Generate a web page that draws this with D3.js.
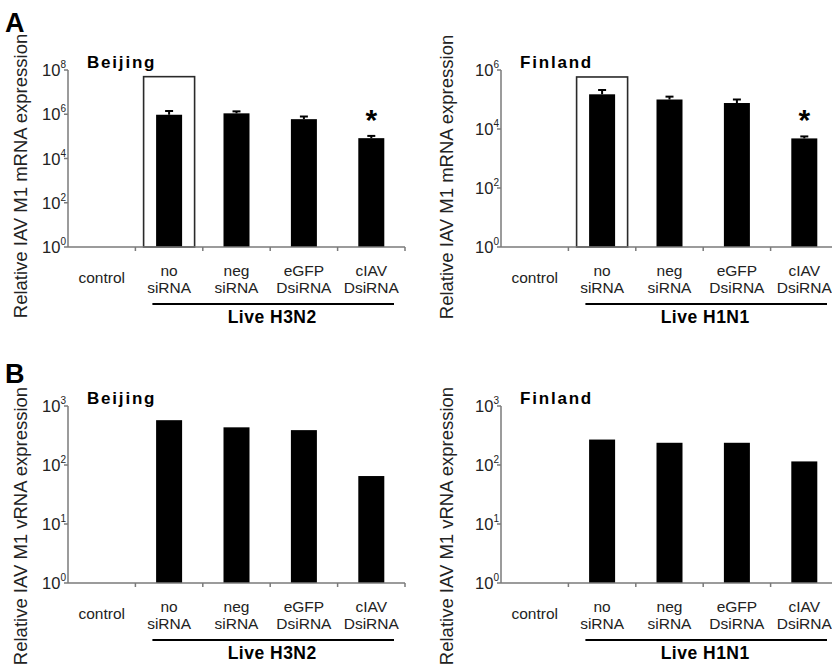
<!DOCTYPE html>
<html>
<head>
<meta charset="utf-8">
<script src="https://cdn.jsdelivr.net/npm/d3@7"></script>
<style>
  body { margin: 0; background: #fff; }
  text { font-family: "Liberation Sans", Arial, sans-serif; }
</style>
</head>
<body>
<div id="chart"></div>
<script>
// categories (each label split into lines)
const categories = [["control"], ["no", "siRNA"], ["neg", "siRNA"], ["eGFP", "DsiRNA"], ["cIAV", "DsiRNA"]];
const groupLabels = ["Live H3N2", "Live H1N1", "Live H3N2", "Live H1N1"];
const strainNames = ["Beijing", "Finland", "Beijing", "Finland"];

// panel A: M1 mRNA, mean and upper error
const beijingMRNA = [1, 9.5e5, 1.1e6, 6.0e5, 8.3e4];
const beijingMRNAErr = [null, 1.4e6, 1.35e6, 7.9e5, 1.05e5];
const finlandMRNA = [1, 1.5e5, 1.0e5, 7.6e4, 4.8e3];
const finlandMRNAErr = [null, 2.1e5, 1.25e5, 1.0e5, 5.6e3];
const markA = ["", "", "", "", "*"];

// panel B: M1 vRNA
const beijingVRNA = [1, 575, 435, 390, 65];
const finlandVRNA = [1, 270, 238, 238, 115];

// y tick exponents
const beijingMRNATicks = [0, 2, 4, 6, 8];
const finlandMRNATicks = [0, 2, 4, 6];
const vrnaTicks = [0, 1, 2, 3];

// highlight box top value (around "no siRNA")
const boxTopA = [5e7, 5.8e5];

const width = 832, height = 668;
const svg = d3.select('#chart').append('svg')
  .attr('width', width)
  .attr('height', height);

const axisCol = '#7a7a7a';

function drawPanel(p) {
  const g = svg.append('g');
  const x = d3.scaleBand()
    .domain(d3.range(categories.length))
    .range([p.left, p.left + 337]);
  const y = d3.scaleLog()
    .domain([1, Math.pow(10, d3.max(p.ticks))])
    .range([p.bottom, p.top]);

  // highlight box
  if (p.boxTop) {
    const cx = x(1) + x.bandwidth() / 2;
    g.append('rect')
      .attr('x', cx - 25.5)
      .attr('y', y(p.boxTop))
      .attr('width', 51)
      .attr('height', p.bottom - y(p.boxTop))
      .attr('fill', 'none')
      .attr('stroke', '#2a2a2a')
      .attr('stroke-width', 1.6);
  }

  const bw = 26;
  g.selectAll('.bar')
    .data(p.values)
    .enter().append('rect')
    .attr('x', (d, i) => x(i) + x.bandwidth() / 2 - bw / 2)
    .attr('y', d => y(d))
    .attr('width', bw)
    .attr('height', d => p.bottom - y(d))
    .attr('fill', '#000');

  if (p.errs) {
    p.errs.forEach((e, i) => {
      if (e == null) return;
      const cx = x(i) + x.bandwidth() / 2;
      g.append('line')
        .attr('x1', cx).attr('x2', cx)
        .attr('y1', y(p.values[i])).attr('y2', y(e))
        .attr('stroke', '#000').attr('stroke-width', 2);
      g.append('line')
        .attr('x1', cx - 4).attr('x2', cx + 4)
        .attr('y1', y(e)).attr('y2', y(e))
        .attr('stroke', '#000').attr('stroke-width', 2);
    });
  }
  if (p.marks) {
    p.marks.forEach((m, i) => {
      if (!m) return;
      g.append('text')
        .attr('x', x(i) + x.bandwidth() / 2)
        .attr('y', y(p.errs[i]) - 6)
        .attr('text-anchor', 'middle')
        .attr('font-size', 30)
        .attr('font-weight', 'bold')
        .text(m);
    });
  }

  // y axis
  g.append('line')
    .attr('x1', p.left).attr('x2', p.left)
    .attr('y1', p.top).attr('y2', p.bottom)
    .attr('stroke', axisCol).attr('stroke-width', 1.5);
  p.ticks.forEach(t => {
    const ty = y(Math.pow(10, t));
    g.append('line')
      .attr('x1', p.left - 4).attr('x2', p.left)
      .attr('y1', ty).attr('y2', ty)
      .attr('stroke', axisCol).attr('stroke-width', 1.5);
    const lab = g.append('text')
      .attr('x', p.left - 2)
      .attr('y', ty + 6)
      .attr('text-anchor', 'end')
      .attr('font-size', 16.5)
      .attr('fill', '#222');
    lab.append('tspan').text('10');
    lab.append('tspan').attr('dy', -8).attr('font-size', 10).text(t);
  });

  // x axis
  g.append('line')
    .attr('x1', p.left).attr('x2', p.left + 337)
    .attr('y1', p.bottom).attr('y2', p.bottom)
    .attr('stroke', axisCol).attr('stroke-width', 1.5);
  d3.range(1, categories.length + 1).forEach(i => {
    const tx = p.left + i * x.step();
    g.append('line')
      .attr('x1', tx).attr('x2', tx)
      .attr('y1', p.bottom).attr('y2', p.bottom + 4)
      .attr('stroke', axisCol).attr('stroke-width', 1.5);
  });

  categories.forEach((lines, i) => {
    const cx = x(i) + x.bandwidth() / 2;
    const t = g.append('text')
      .attr('text-anchor', 'middle')
      .attr('font-size', 15.5)
      .attr('fill', '#222');
    if (lines.length === 1) {
      t.append('tspan').attr('x', cx).attr('y', p.bottom + 36).text(lines[0]);
    } else {
      lines.forEach((l, k) => {
        t.append('tspan').attr('x', cx).attr('y', p.bottom + 29 + k * 17).text(l);
      });
    }
  });

  // group underline and label
  g.append('line')
    .attr('x1', x(1) + 17).attr('x2', p.left + 337 - 11)
    .attr('y1', p.bottom + 57).attr('y2', p.bottom + 57)
    .attr('stroke', '#000').attr('stroke-width', 2.2);
  g.append('text')
    .attr('x', (x(1) + p.left + 337) / 2 + 2)
    .attr('y', p.bottom + 76)
    .attr('text-anchor', 'middle')
    .attr('font-size', 17.5)
    .attr('font-weight', 'bold')
    .attr('letter-spacing', 0.5)
    .text(p.group);

  // strain name
  g.append('text')
    .attr('x', p.left + 19)
    .attr('y', p.top - 2)
    .attr('font-size', 17)
    .attr('font-weight', 'bold')
    .attr('letter-spacing', 1.8)
    .text(p.strain);

  // y title
  g.append('text')
    .attr('transform', `translate(${p.titleX},${p.titleY}) rotate(-90)`)
    .attr('text-anchor', 'middle')
    .attr('font-size', 18.5)
    .attr('fill', '#222')
    .text(p.yTitle);
}

drawPanel({ left: 68, top: 70, bottom: 247, ticks: beijingMRNATicks, values: beijingMRNA, errs: beijingMRNAErr,
  marks: markA, boxTop: boxTopA[0], group: groupLabels[0], strain: strainNames[0],
  titleX: 27, titleY: 176, yTitle: 'Relative IAV M1 mRNA expression' });
drawPanel({ left: 501, top: 70, bottom: 247, ticks: finlandMRNATicks, values: finlandMRNA, errs: finlandMRNAErr,
  marks: markA, boxTop: boxTopA[1], group: groupLabels[1], strain: strainNames[1],
  titleX: 453, titleY: 177, yTitle: 'Relative IAV M1 mRNA expression' });
drawPanel({ left: 68, top: 406, bottom: 583, ticks: vrnaTicks, values: beijingVRNA,
  group: groupLabels[2], strain: strainNames[2],
  titleX: 27, titleY: 526, yTitle: 'Relative IAV M1 vRNA expression' });
drawPanel({ left: 501, top: 406, bottom: 583, ticks: vrnaTicks, values: finlandVRNA,
  group: groupLabels[3], strain: strainNames[3],
  titleX: 453, titleY: 526, yTitle: 'Relative IAV M1 vRNA expression' });

// panel letters
svg.append('text').attr('x', 5).attr('y', 32)
  .attr('font-size', 27).attr('font-weight', 'bold').text('A');
svg.append('text').attr('x', 5).attr('y', 383)
  .attr('font-size', 27).attr('font-weight', 'bold').text('B');
</script>
</body>
</html>
